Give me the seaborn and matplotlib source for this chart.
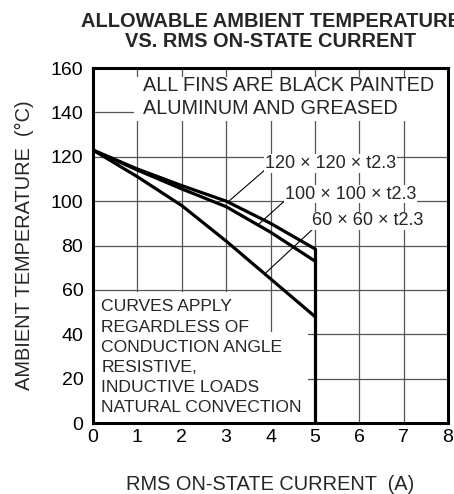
import pandas as pd
import matplotlib
matplotlib.use("Agg")
import matplotlib.pyplot as plt
from matplotlib.patches import Rectangle
import seaborn as sns

# Kurven (Ablesung aus dem Originaldiagramm)
current = [0, 1, 2, 3, 4, 5]
temp_120 = [123, 114.5, 107, 100, 90, 78.5]
temp_100 = [123, 114, 105.5, 97.5, 86, 73]
temp_60 = [123, 111, 98, 82, 65, 48]
fin_labels = ["120 × 120 × t2.3", "100 × 100 × t2.3", "60 × 60 × t2.3"]
x_ticks = [0, 1, 2, 3, 4, 5, 6, 7, 8]
y_ticks = [0, 20, 40, 60, 80, 100, 120, 140, 160]

df = pd.concat([
    pd.DataFrame({"I": current, "T": temp_120, "fin": fin_labels[0]}),
    pd.DataFrame({"I": current, "T": temp_100, "fin": fin_labels[1]}),
    pd.DataFrame({"I": current, "T": temp_60, "fin": fin_labels[2]}),
])

sns.set_theme(style="white")
plt.rcParams["font.family"] = ["Liberation Sans", "DejaVu Sans"]

fig = plt.figure(figsize=(4.54, 4.94), dpi=100)
ax = fig.add_axes([93 / 454, 1 - 423 / 494, 355 / 454, 355 / 494])

sns.lineplot(data=df, x="I", y="T", hue="fin", palette=["black"] * 3,
             linewidth=2.3, legend=False, ax=ax, zorder=3)
# senkrechte Grenze bei 5 A
ax.plot([current[-1], current[-1]], [0, temp_120[-1]], color="black", lw=2.3, zorder=3)

ax.set_xlim(0, 8)
ax.set_ylim(0, 160)
ax.set_xticks(x_ticks)
ax.set_yticks(y_ticks)
ax.grid(True, color="#555555", lw=0.9)
ax.tick_params(axis="both", length=0, labelsize=14, colors="black")
ax.tick_params(axis="x", pad=4)
ax.tick_params(axis="y", pad=7)
for s in ax.spines.values():
    s.set_color("black")
    s.set_linewidth(2.2)
    s.set_zorder(4)

# weisse Hintergruende fuer Textbloecke
ax.add_patch(Rectangle((0.93, 136), 7.07, 20, fc="white", ec="none", zorder=1.5))
ax.add_patch(Rectangle((0, 0), 4.85, 41, fc="white", ec="none", zorder=1.5))
ax.add_patch(Rectangle((0, 41), 3.3, 18, fc="white", ec="none", zorder=1.5))

ax.text(1.13, 156.6, "ALL FINS ARE BLACK PAINTED\nALUMINUM AND GREASED",
        fontsize=14.3, va="top", ha="left", linespacing=1.27, zorder=2)
ax.text(0.19, 55.7, "CURVES APPLY\nREGARDLESS OF\nCONDUCTION ANGLE\nRESISTIVE,\nINDUCTIVE LOADS\nNATURAL CONVECTION",
        fontsize=12.6, va="top", ha="left", linespacing=1.43, zorder=2)

# Beschriftungen mit Hinweislinien
label_pos = [(3.87, 116.9), (4.32, 103.2), (4.93, 91.1)]
leader = [((3.04, 99.6), (3.87, 114)), ((3.7, 89.0), (4.3, 99.8)), ((3.89, 67.6), (4.96, 87.5))]
for lab, (tx, ty), (p0, p1) in zip(fin_labels, label_pos, leader):
    ax.plot([p0[0], p1[0]], [p0[1], p1[1]], color="black", lw=0.8, zorder=3)
    ax.text(tx, ty, lab, fontsize=13, va="center", ha="left", zorder=3,
            bbox=dict(fc="white", ec="none", pad=0.5))

ax.set_title("ALLOWABLE AMBIENT TEMPERATURE\nVS. RMS ON-STATE CURRENT",
             fontsize=14.4, fontweight="bold", pad=15, linespacing=1.05)
ax.set_xlabel("RMS ON-STATE CURRENT  (A)", fontsize=14.4, labelpad=21)
ax.set_ylabel("AMBIENT TEMPERATURE  (°C)", fontsize=14.4, labelpad=12)

fig.savefig("out.png", dpi=100)
plt.close(fig)
